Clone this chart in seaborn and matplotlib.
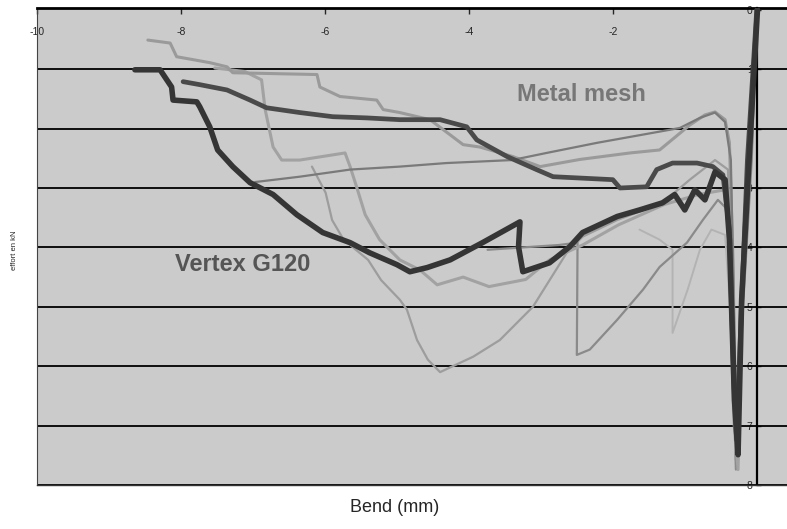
import numpy as np
import pandas as pd
import matplotlib.pyplot as plt
import seaborn as sns

# bend (mm) and effort (kN, plotted downwards)
g120_x = [-8.64, -8.29, -8.13, -8.11, -7.78, -7.74, -7.60, -7.49, -7.28, -7.04, -6.72, -6.39,
          -6.03, -5.65, -5.38, -5.00, -4.82, -4.58, -4.26, -3.81, -3.29, -3.31, -3.25, -2.88,
          -2.60, -2.42, -1.94, -1.63, -1.31, -1.14, -1.00, -0.86, -0.72, -0.58, -0.44, -0.38,
          -0.31, -0.26, -0.21, -0.10, 0.01]
g120_y = [1.01, 1.01, 1.30, 1.52, 1.55, 1.63, 1.97, 2.36, 2.64, 2.91, 3.11, 3.45,
          3.75, 3.92, 4.09, 4.29, 4.41, 4.34, 4.21, 3.92, 3.57, 3.99, 4.41, 4.26,
          3.99, 3.75, 3.48, 3.37, 3.25, 3.11, 3.37, 3.03, 3.20, 2.73, 2.86, 3.87,
          6.57, 7.49, 4.88, 2.36, 0.0]

dark2_x = [-7.97, -7.74, -7.36, -7.04, -6.81, -6.35, -5.89, -5.42, -4.96, -4.40, -4.03, -3.89,
           -3.47, -3.06, -2.83, -2.00, -1.90, -1.53, -1.39, -1.17, -0.83, -0.61, -0.47, -0.38,
           -0.32, -0.28, -0.22, -0.13, 0.0]
dark2_y = [1.21, 1.26, 1.35, 1.52, 1.65, 1.73, 1.80, 1.82, 1.85, 1.85, 1.97, 2.19,
           2.47, 2.69, 2.81, 2.86, 3.00, 2.98, 2.69, 2.58, 2.58, 2.64, 2.78, 3.70,
           6.23, 7.24, 5.22, 2.53, 0.0]

mesh_x = [-8.46, -8.15, -8.06, -7.83, -7.60, -7.36, -7.28, -6.11, -6.07, -5.79, -5.28, -5.19,
          -4.96, -4.54, -4.08, -3.85, -3.39, -3.01, -2.46, -1.76, -1.35, -0.93, -0.72, -0.58,
          -0.44, -0.38, -0.33, -0.29, -0.21, -0.10, 0.0]
mesh_y = [0.51, 0.56, 0.79, 0.84, 0.89, 0.96, 1.06, 1.09, 1.30, 1.46, 1.52, 1.68,
          1.73, 1.85, 2.27, 2.31, 2.47, 2.64, 2.52, 2.41, 2.36, 1.94, 1.77, 1.72,
          1.85, 2.24, 4.21, 7.41, 4.88, 2.36, 0.0]

grey1_x = [-7.53, -7.11, -6.88, -6.83, -6.72, -6.60, -6.35, -5.72, -5.65, -5.56, -5.44, -5.24,
           -4.96, -4.68, -4.44, -4.08, -3.72, -3.21, -2.88, -2.42, -1.92, -1.29, -0.81, -0.44,
           -0.38, -0.32, -0.26, -0.21, -0.10, 0.0]
grey1_y = [0.98, 1.04, 1.18, 1.68, 2.31, 2.53, 2.53, 2.41, 2.64, 2.98, 3.45, 3.87,
           4.21, 4.38, 4.63, 4.50, 4.66, 4.54, 4.21, 3.96, 3.62, 3.28, 3.11, 3.03,
           4.04, 6.90, 7.74, 5.22, 2.53, 0.0]

vdeep_x = [-6.18, -5.99, -5.90, -5.74, -5.40, -5.22, -4.96, -4.86, -4.72, -4.57, -4.40, -3.94,
           -3.57, -3.11, -2.64, -2.42, -1.94, -1.31, -0.93, -0.58, -0.40, -0.35, -0.29, -0.21,
           -0.07, 0.0]
vdeep_y = [2.64, 3.08, 3.54, 3.87, 4.21, 4.55, 4.88, 5.05, 5.56, 5.89, 6.10, 5.84,
           5.56, 5.00, 4.09, 3.82, 3.54, 3.25, 2.86, 2.53, 2.69, 4.88, 7.58, 5.22,
           2.36, 0.0]

v2_x = [-3.74, -2.75, -2.49, -2.50, -2.32, -1.94, -1.58, -1.35, -0.97, -0.75, -0.54, -0.40,
        -0.35, -0.29, -0.21, -0.07, 0.0]
v2_y = [4.04, 3.96, 3.92, 5.81, 5.72, 5.22, 4.71, 4.33, 3.92, 3.54, 3.20, 3.37,
        5.22, 7.74, 5.39, 2.53, 0.0]

v3_x = [-1.63, -1.35, -1.17, -1.17, -0.96, -0.79, -0.63, -0.44, -0.36, -0.31, -0.21, 0.0]
v3_y = [3.70, 3.87, 4.04, 5.44, 4.71, 4.04, 3.70, 3.79, 5.22, 7.07, 4.88, 0.0]

rise_x = [-6.97, -6.35, -5.65, -4.96, -4.31, -3.40, -2.92, -2.22, -1.76, -1.07, -0.79, -0.58,
          -0.44, -0.36, -0.32, -0.28, -0.21, -0.07, 0.0]
rise_y = [2.90, 2.81, 2.69, 2.64, 2.58, 2.53, 2.41, 2.24, 2.14, 1.99, 1.82, 1.73,
          1.89, 2.53, 4.88, 7.24, 4.88, 2.36, 0.0]

series = [
    ("v3", v3_x, v3_y, "#b3b3b3", 1.4),
    ("vdeep", vdeep_x, vdeep_y, "#9d9d9d", 1.6),
    ("v2", v2_x, v2_y, "#8a8a8a", 1.6),
    ("grey1", grey1_x, grey1_y, "#a2a2a2", 2.2),
    ("mesh", mesh_x, mesh_y, "#9a9a9a", 2.2),
    ("rise", rise_x, rise_y, "#7a7a7a", 1.6),
    ("dark2", dark2_x, dark2_y, "#4a4a4a", 3.4),
    ("g120", g120_x, g120_y, "#353535", 4.0),
]

x_ticks = [-10, -8, -6, -4, -2]
y_ticks = [0, 1, 2, 3, 4, 5, 6, 7, 8]

sns.set_theme(style="white")
plt.rcParams["font.family"] = ["Liberation Sans", "DejaVu Sans"]

fig = plt.figure(figsize=(7.87, 5.29), dpi=100)
ax = fig.add_axes([37 / 787, 44 / 529, 750 / 787, 477 / 529])
ax.set_facecolor("#cbcbcb")

for yv in y_ticks[1:]:
    ax.axhline(yv, color="black", lw=1.3, zorder=1)

for name, xs, ys, col, lw in series:
    df = pd.DataFrame({"bend": xs, "effort": ys})
    sns.lineplot(data=df, x="bend", y="effort", sort=False, estimator=None,
                 color=col, linewidth=lw, ax=ax, zorder=3)

ax.set_xlim(-10, 0.42)
ax.set_ylim(8, -0.03)

# axes cross at (0, 0): y axis on the right at bend 0, x axis along the top
ax.spines["left"].set_position(("data", 0))
ax.spines["left"].set_linewidth(1.6)
ax.spines["left"].set_color("black")
ax.spines["right"].set_position(("data", -10))
ax.spines["right"].set_linewidth(0.8)
ax.spines["right"].set_color("#444444")
ax.spines["top"].set_linewidth(2.0)
ax.spines["top"].set_color("black")
ax.spines["bottom"].set_linewidth(1.0)
ax.spines["bottom"].set_color("#333333")

ax.xaxis.tick_top()
ax.set_xticks(x_ticks)
ax.set_xticklabels([str(t) for t in x_ticks])
ax.tick_params(axis="x", direction="in", length=4, width=1, pad=-21, labelsize=7.5,
               top=True, bottom=False)
ax.yaxis.tick_left()
ax.set_yticks(y_ticks)
ax.set_yticklabels([str(t) for t in y_ticks])
ax.tick_params(axis="y", direction="in", length=3, width=1, pad=3, labelsize=7.5,
               left=True, right=False)
ax.set_xlabel("")
ax.set_ylabel("")

ax.text(-2.44, 1.43, "Metal mesh", fontsize=17, fontweight="bold", color="#777777",
        ha="center", va="center", zorder=5)
ax.text(-7.14, 4.29, "Vertex G120", fontsize=17, fontweight="bold", color="#555555",
        ha="center", va="center", zorder=5)

fig.text(0.019, 0.527, "effort en kN", rotation=90, fontsize=5.5, ha="center", va="center")
fig.text(0.502, 0.04, "Bend (mm)", fontsize=13, ha="center", va="center")

fig.savefig("out.png", dpi=100)
